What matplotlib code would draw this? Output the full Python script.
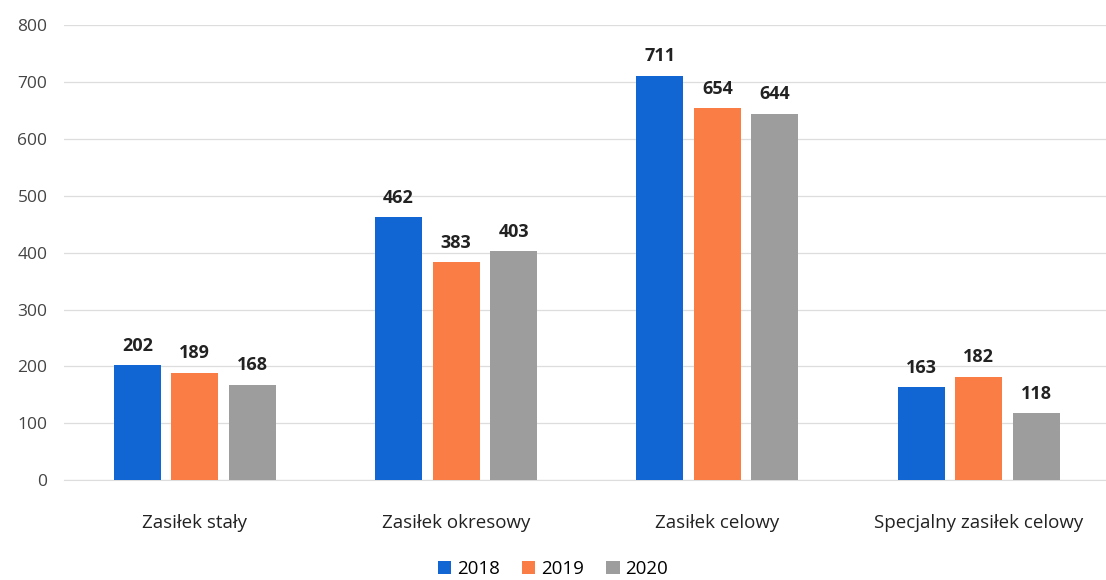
import matplotlib.pyplot as plt
import numpy as np

categories = ["Zasiłek stały", "Zasiłek okresowy", "Zasiłek celowy", "Specjalny zasiłek celowy"]
years = ["2018", "2019", "2020"]
v2018 = [202, 462, 711, 163]
v2019 = [189, 383, 654, 182]
v2020 = [168, 403, 644, 118]
y_ticks = [0, 100, 200, 300, 400, 500, 600, 700, 800]

colors = ["#1266D4", "#FA7D45", "#9D9D9D"]

plt.rcParams["font.family"] = ["Open Sans", "DejaVu Sans"]

fig = plt.figure(figsize=(11.06, 5.8), dpi=100)
ax = fig.add_axes([0.058, 0.172, 0.945, 0.785])

x = np.arange(len(categories))
width = 0.18
step = 0.22
for i, (vals, yr) in enumerate(zip([v2018, v2019, v2020], years)):
    pos = x + (i - 1) * step
    bars = ax.bar(pos, vals, width, color=colors[i], label=yr, zorder=3)
    for b, v in zip(bars, vals):
        ax.text(b.get_x() + b.get_width() / 2, v + 18, str(v),
                ha="center", va="bottom", fontsize=13, fontweight="bold",
                color="#222222")

ax.set_xlim(-0.5, 3.5)
ax.set_ylim(0, 800)
ax.set_yticks(y_ticks)
ax.tick_params(axis="y", length=0, labelsize=12.5, labelcolor="#444444", pad=12)
ax.set_xticks(x)
ax.set_xticklabels(categories)
ax.tick_params(axis="x", length=0, labelsize=13.5, labelcolor="#222222", pad=24)
ax.grid(axis="y", color="#DDDDDD", linewidth=0.9, zorder=0)
for s in ["top", "right", "left"]:
    ax.spines[s].set_visible(False)
ax.spines["bottom"].set_color("#DDDDDD")

fig.legend(loc="lower center", ncol=3, frameon=False, fontsize=13.5,
           bbox_to_anchor=(0.5, -0.025), handlelength=0.7, handleheight=0.7,
           columnspacing=1.2, handletextpad=0.3)

fig.savefig("out.png", dpi=100, facecolor="white")
